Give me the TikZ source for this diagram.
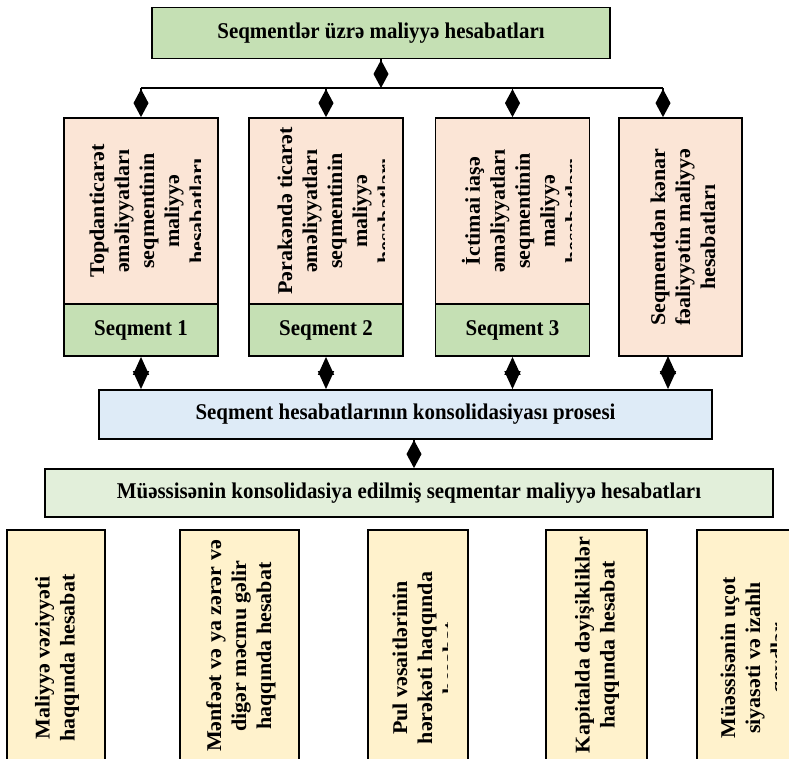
\documentclass[tikz,border=0pt]{standalone}
\usepackage{fontspec}
\setmainfont{Liberation Serif}
\newfontfamily\hfont{Liberation Serif}[FakeStretch=0.93]
\newfontfamily\vfont{Liberation Serif}[FakeStretch=1.05]
\usepackage{tikz}
\usetikzlibrary{arrows.meta}

\definecolor{hdrgreen}{HTML}{C5E0B4}
\definecolor{segpink}{HTML}{FBE5D6}
\definecolor{consblue}{HTML}{DEEBF7}
\definecolor{resgreen}{HTML}{E2EFDA}
\definecolor{repyellow}{HTML}{FFF2CC}

\tikzset{
  box/.style={draw,line width=1.8pt,inner sep=0pt,font=\hfont\bfseries\fontsize{22.5}{27}\selectfont},
  vtext/.style={rotate=90,align=center,inner sep=0pt,font=\vfont\bfseries\fontsize{21}{25}\selectfont},
  dia/.style={line width=1.5pt,-{Diamond[length=28pt,width=15pt]}},
  dbl/.style={line width=1.5pt,{Triangle[length=18pt,width=16pt]}-{Triangle[length=18pt,width=16pt]}}
}

\begin{document}
\begin{tikzpicture}[x=1pt,y=-1pt]
  \useasboundingbox (0,0) rectangle (789,758);
  \clip (0,0) rectangle (789,758);
  \node[box,fill=hdrgreen,minimum width=458pt,minimum height=51pt] (top) at (381,33) {Seqmentlər üzrə maliyyə hesabatları};
  \foreach \i/\cx/\tx/\rx/\txt in {
    1/141/147/200/{Topdanticarət\\əməliyyatları\\seqmentinin\\maliyyə\\hesabatları},
    2/326/335/384/{Pərakəndə ticarət\\əməliyyatları\\seqmentinin\\maliyyə\\hesabatları},
    3/512.5/521/571/{İctimai iaşə\\əməliyyatları\\seqmentinin\\maliyyə\\hesabatları}}{
    \node[box,fill=segpink,minimum width=154pt,minimum height=186pt] (s\i) at (\cx,211) {};
    \node[box,fill=hdrgreen,minimum width=154pt,minimum height=52pt] (g\i) at (\cx,330) {Seqment \i};
    \begin{scope}
      \clip (\cx-77,118) rectangle (\rx,304);
      \node[vtext] (t\i) at (\tx,211) {\txt};
    \end{scope}
  }
  \node[box,fill=segpink,minimum width=123pt,minimum height=238pt] (s4) at (680.5,237) {};
  \node[vtext] (t4) at (683,237) {Seqmentdən kənar\\fəaliyyətin maliyyə\\hesabatları};
  \node[box,fill=consblue,minimum width=613pt,minimum height=49pt] (cons) at (405.5,414.5) {Seqment hesabatlarının konsolidasiyası prosesi};
  \node[box,fill=resgreen,minimum width=728pt,minimum height=48pt] (res) at (409,493) {Müəssisənin konsolidasiya edilmiş seqmentar maliyyə hesabatları};
  \foreach \i/\cx/\bw/\tx/\ty/\rx/\txt in {
    1/56/98/57/658/120/{Maliyyə vəziyyəti\\haqqında hesabat},
    2/239.5/119/241/646/320/{Mənfəət və ya zərər və\\digər məcmu gəlir\\haqqında hesabat},
    3/418/100/425/658/447/{Pul vəsaitlərinin\\hərəkəti haqqında\\hesabat},
    4/596.5/101/597/645/660/{Kapitalda dəyişikliklər\\haqqında hesabat},
    5/747/100/755/658/776/{Müəssisənin uçot\\siyasəti və izahlı\\qeydlər}}{
    \node[box,fill=repyellow,minimum width=\bw pt,minimum height=260pt] (r\i) at (\cx,660) {};
    \begin{scope}
      \clip (\cx-\bw/2,530) rectangle (\rx,790);
      \node[vtext] (u\i) at (\tx,\ty) {\txt};
    \end{scope}
  }
  \coordinate (busL) at (141,88);
  \coordinate (busR) at (663,88);
  \coordinate (s4foot) at (668,356);
  \coordinate (consfoot) at (414,439);
  \draw[line width=1.5pt] (busL) -- (busR);
  \draw[dia] (top.south) -- (top.south |- busL);
  \foreach \i in {1,2,3} \draw[dia] (s\i.north |- busL) -- (s\i.north);
  \draw[dia] (busR) -- (busR |- s4.north);
  \foreach \i in {1,2,3} \draw[dbl] (g\i.south) -- (g\i.south |- cons.north);
  \draw[dbl] (s4foot) -- (s4foot |- cons.north);
  \draw[dia] (consfoot) -- (consfoot |- res.north);
\end{tikzpicture}
\end{document}
